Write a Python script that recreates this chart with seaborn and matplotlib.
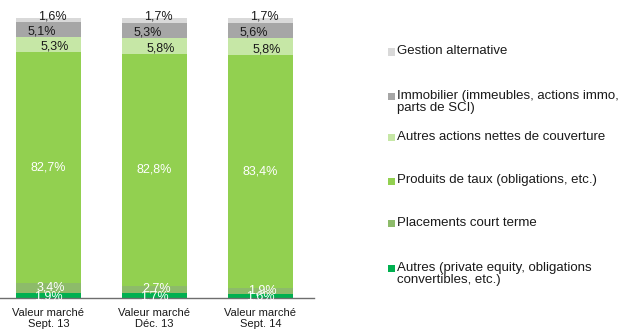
import matplotlib
matplotlib.use("Agg")
import matplotlib.pyplot as plt
from matplotlib.patches import Rectangle
import numpy as np
import pandas as pd
import seaborn as sns

# Periods on the x axis
periods = ["Valeur marché\nSept. 13", "Valeur marché\nDéc. 13", "Valeur marché\nSept. 14"]

# Allocation shares (%) from the bottom of each bar to the top
autres = [1.9, 1.7, 1.6]
placements = [3.4, 2.7, 1.9]
produits_taux = [82.7, 82.8, 83.4]
autres_actions = [5.3, 5.8, 5.8]
immobilier = [5.1, 5.3, 5.6]
gestion_alt = [1.6, 1.7, 1.7]

series_names = [
    "Autres (private equity, obligations\nconvertibles, etc.)",
    "Placements court terme",
    "Produits de taux (obligations, etc.)",
    "Autres actions nettes de couverture",
    "Immobilier (immeubles, actions immo,\nparts de SCI)",
    "Gestion alternative",
]
series_values = [autres, placements, produits_taux, autres_actions, immobilier, gestion_alt]
colors = ["#00B050", "#8DBB6A", "#92D050", "#C6E7A6", "#A6A6A6", "#D9D9D9"]
label_colors = ["white", "white", "white", "#1a1a1a", "#1a1a1a", "#1a1a1a"]
label_dx = [0.0, 0.02, 0.0, 0.06, -0.06, 0.04]
label_dy = [-0.3, 0.3, 0.0, -1.0, -0.8, 1.5]

sns.set_theme(style="white")
plt.rcParams["font.family"] = ["Liberation Sans", "DejaVu Sans"]

fig = plt.figure(figsize=(6.28, 3.32), dpi=100)
ax = fig.add_axes([0.0, 34 / 332, 314 / 628, 280 / 332])

vals = np.array(series_values)
cum_top = np.cumsum(vals, axis=0)
cum_bot = cum_top - vals

# Stacked bars: draw the cumulative totals from the top series down
for i in range(len(series_names) - 1, -1, -1):
    df = pd.DataFrame({"period": periods, "value": cum_top[i]})
    sns.barplot(data=df, x="period", y="value", color=colors[i], saturation=1,
                width=0.613, ax=ax, order=periods, errorbar=None, linewidth=0,
                edgecolor="none")

for i in range(len(series_names)):
    for j in range(len(periods)):
        v = vals[i, j]
        y = cum_bot[i, j] + v / 2 + label_dy[i]
        ax.text(j + label_dx[i], y, f"{v:.1f}%".replace(".", ","),
                ha="center", va="center", fontsize=9, color=label_colors[i],
                clip_on=False)

ax.set_xlim(-0.4575, 2.505)
ax.set_ylim(0, 100)
ax.set_xlabel("")
ax.set_ylabel("")
ax.set_yticks([])
ax.tick_params(axis="x", length=0, labelsize=8, pad=7, colors="#1a1a1a")
for lbl in ax.get_xticklabels():
    lbl.set_linespacing(1.15)
for s in ["top", "left", "right"]:
    ax.spines[s].set_visible(False)
ax.spines["bottom"].set_color("#6e6e6e")
ax.spines["bottom"].set_linewidth(1.0)
ax.patch.set_alpha(0)

# Legend, listed from the top segment to the bottom one
legend_rows = [52, 96, 137, 181, 223, 268]
for k, i in enumerate(range(len(series_names) - 1, -1, -1)):
    yc = 1 - legend_rows[k] / 332
    fig.patches.append(Rectangle((388 / 628, yc - 3.5 / 332), 7 / 628, 7 / 332,
                                 transform=fig.transFigure, facecolor=colors[i],
                                 edgecolor="none"))
    fig.text(397 / 628, yc + 6.5 / 332, series_names[i], ha="left", va="top",
             fontsize=9.5, color="#1a1a1a", linespacing=1.1)

fig.savefig("out.png", dpi=100)
